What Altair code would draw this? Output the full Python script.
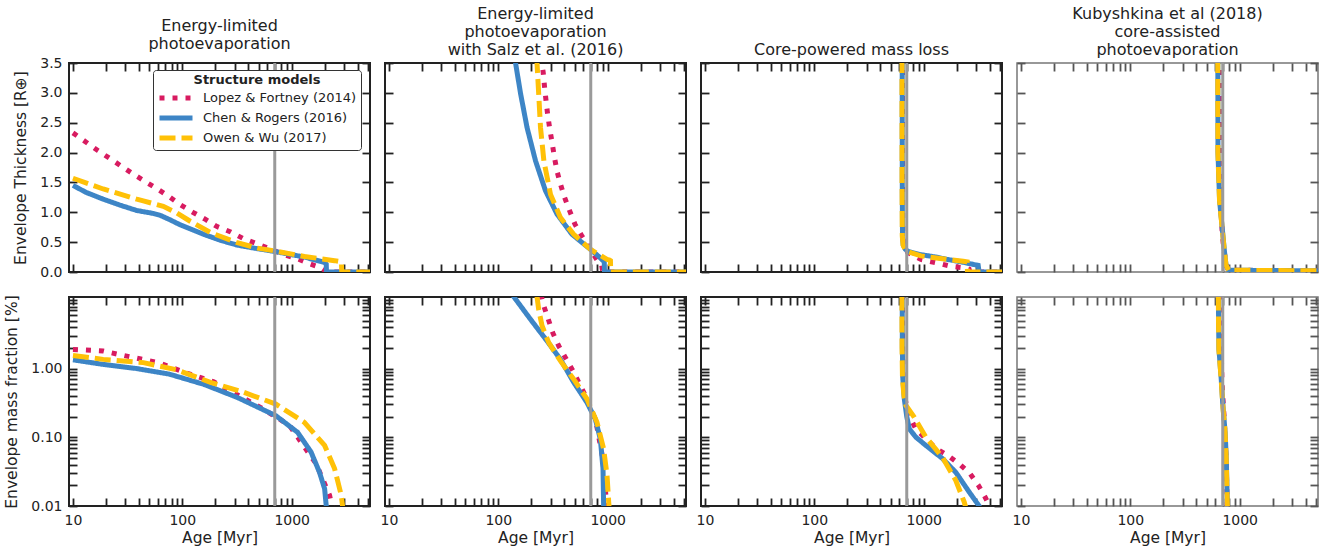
import altair as alt
import pandas as pd

# ---------------- text / categories ----------------
SERIES = ["Lopez & Fortney (2014)", "Chen & Rogers (2016)", "Owen & Wu (2017)"]
COLORS = ["#d81b60", "#3d85c6", "#ffc107"]
DASHES = [[5, 8], [1, 0], [16, 6]]
LEGEND_TITLE = "Structure models"
PANEL_TITLES = [
    ["Energy-limited", "photoevaporation"],
    ["Energy-limited", "photoevaporation", "with Salz et al. (2016)"],
    ["Core-powered mass loss"],
    ["Kubyshkina et al (2018)", "core-assisted", "photoevaporation"],
]
ROW_TITLES = ["Envelope Thickness [R⊕]", "Envelope mass fraction [%]"]
X_TITLE = "Age [Myr]"

# ---------------- axes ----------------
X_DOMAIN = [9.2, 5200]
TOP_DOMAIN = [0, 3.5]
BOT_DOMAIN = [0.01, 11]
X_TICKS = [10, 20, 30, 40, 50, 60, 70, 80, 90, 100, 200, 300, 400, 500, 600, 700, 800, 900,
           1000, 2000, 3000, 4000, 5000]
X_LABELS = [10, 100, 1000]
TOP_TICKS = [0, 0.5, 1.0, 1.5, 2.0, 2.5, 3.0, 3.5]
BOT_TICKS = [0.01, 0.02, 0.03, 0.04, 0.05, 0.06, 0.07, 0.08, 0.09,
             0.1, 0.2, 0.3, 0.4, 0.5, 0.6, 0.7, 0.8, 0.9,
             1, 2, 3, 4, 5, 6, 7, 8, 9, 10]
BOT_LABELS = [0.01, 0.1, 1]
DISPERSAL_AGE = [700]

# ---------------- data: panel 1 (energy-limited) ----------------
P1T_LF_AGE = [10, 13.3, 17, 21.8, 27.8, 35.6, 46.3, 59.3, 76, 97, 125, 163, 208, 277, 361, 485, 644, 855, 1120, 1450, 1860, 2000, 2050, 5200]
P1T_LF_VAL = [2.33, 2.17, 2.03, 1.90, 1.77, 1.64, 1.51, 1.39, 1.26, 1.12, 1.00, 0.88, 0.76, 0.67, 0.56, 0.47, 0.38, 0.29, 0.225, 0.14, 0.07, 0.03, 0.0, 0.0]
P1T_CR_AGE = [10, 13.3, 18.9, 26.9, 38.3, 54.5, 62.6, 76, 95.6, 157, 224, 318, 453, 716, 1306, 2000, 2070, 2080, 5200]
P1T_CR_VAL = [1.45, 1.33, 1.22, 1.12, 1.03, 0.98, 0.95, 0.88, 0.79, 0.63, 0.53, 0.45, 0.40, 0.34, 0.25, 0.16, 0.13, 0.0, 0.0]
P1T_OW_AGE = [10, 18.9, 38.3, 44, 67, 89, 118, 181, 318, 485, 716, 1306, 2466, 2850, 2870, 5200]
P1T_OW_VAL = [1.57, 1.39, 1.22, 1.19, 1.10, 0.99, 0.85, 0.66, 0.49, 0.40, 0.35, 0.26, 0.19, 0.17, 0.0, 0.0]

P1B_LF_AGE = [10, 18.9, 25.9, 60.5, 106, 194, 522, 950, 1675, 2220, 2400]
P1B_LF_VAL = [1.9, 1.80, 1.61, 1.22, 0.875, 0.64, 0.27, 0.15, 0.041, 0.0143, 0.008]
P1B_CR_AGE = [10, 18.9, 38.3, 76, 157, 318, 716, 1133, 1503, 1795, 2000, 2070, 2100]
P1B_CR_VAL = [1.34, 1.15, 1.0, 0.83, 0.59, 0.38, 0.206, 0.118, 0.061, 0.031, 0.0178, 0.01, 0.005]
P1B_OW_AGE = [10, 18.9, 44, 89, 181, 366, 716, 1306, 2000, 2466, 2840, 3000]
P1B_OW_VAL = [1.55, 1.36, 1.22, 0.96, 0.63, 0.45, 0.304, 0.165, 0.076, 0.035, 0.0143, 0.007]

# ---------------- data: panel 2 (energy-limited, Salz) ----------------
P2T_LF_AGE = [244, 257, 264, 273, 282, 295, 310, 326, 344, 370, 403, 450, 502, 582, 695, 800, 880, 900, 5200]
P2T_LF_VAL = [3.6, 3.35, 3.12, 2.87, 2.65, 2.40, 2.17, 1.92, 1.69, 1.47, 1.25, 1.02, 0.80, 0.60, 0.38, 0.2, 0.12, 0.0, 0.0]
P2T_CR_AGE = [141, 144, 160, 183, 219, 270, 344, 472, 695, 857, 918, 930, 935, 5200]
P2T_CR_VAL = [3.6, 3.49, 2.98, 2.42, 1.86, 1.36, 0.97, 0.63, 0.38, 0.236, 0.18, 0.17, 0.0, 0.0]
P2T_OW_AGE = [224, 226, 234, 243, 261, 300, 370, 489, 695, 986, 1040, 1060, 1065, 5200]
P2T_OW_VAL = [3.6, 3.49, 2.98, 2.42, 1.86, 1.30, 0.91, 0.63, 0.38, 0.21, 0.2, 0.19, 0.0, 0.0]

P2B_LF_AGE = [245, 261, 315, 357, 411, 482, 543, 650, 780, 900, 960, 1000]
P2B_LF_VAL = [12, 8.1, 3.3, 2.13, 1.44, 0.92, 0.63, 0.36, 0.17, 0.05, 0.015, 0.008]
P2B_CR_AGE = [135, 139, 197, 279, 370, 489, 647, 771, 857, 906, 918, 925]
P2B_CR_VAL = [12, 11, 5.2, 2.52, 1.36, 0.63, 0.32, 0.184, 0.094, 0.035, 0.01, 0.005]
P2B_OW_AGE = [224, 226, 234, 251, 289, 370, 489, 647, 798, 918, 986, 1021, 1040]
P2B_OW_VAL = [12, 11, 7.2, 4.2, 2.38, 1.29, 0.70, 0.36, 0.165, 0.068, 0.028, 0.0115, 0.008]

# ---------------- data: panel 3 (core-powered) ----------------
P3T_LF_AGE = [640, 641, 645, 660, 713, 944, 1340, 1770, 2345, 2600, 2650, 5200]
P3T_LF_VAL = [3.6, 1.5, 0.6, 0.42, 0.33, 0.21, 0.15, 0.096, 0.07, 0.05, 0.0, 0.0]
P3T_CR_AGE = [636, 637, 640, 650, 680, 713, 800, 944, 1300, 1652, 2200, 2893, 3150, 3210, 5200]
P3T_CR_VAL = [3.6, 1.5, 0.6, 0.45, 0.38, 0.35, 0.32, 0.29, 0.25, 0.21, 0.17, 0.124, 0.11, 0.0, 0.0]
P3T_OW_AGE = [633, 634, 637, 648, 680, 713, 944, 1652, 2300, 2500, 2513, 5200]
P3T_OW_VAL = [3.6, 1.5, 0.6, 0.45, 0.37, 0.34, 0.27, 0.21, 0.18, 0.17, 0.0, 0.0]

P3B_LF_AGE = [640, 642, 648, 670, 720, 849, 1291, 1676, 2113, 2637, 3162, 3640, 4000]
P3B_LF_VAL = [12, 2, 0.7, 0.4, 0.22, 0.132, 0.069, 0.054, 0.041, 0.030, 0.020, 0.0135, 0.01]
P3B_CR_AGE = [636, 638, 645, 665, 700, 740, 850, 1048, 1486, 1963, 2604, 3213, 3400]
P3B_CR_VAL = [12, 2, 0.7, 0.36, 0.2, 0.132, 0.1, 0.076, 0.049, 0.031, 0.016, 0.01, 0.008]
P3B_OW_AGE = [632, 634, 640, 660, 689, 821, 1048, 1486, 1963, 2344, 2500]
P3B_OW_VAL = [12, 2, 0.7, 0.4, 0.29, 0.195, 0.1, 0.051, 0.0236, 0.0115, 0.008]

# ---------------- data: panel 4 (Kubyshkina) ----------------
P4T_LF_AGE = [677, 678, 690, 705, 724, 749, 790, 5200]
P4T_LF_VAL = [3.6, 1.0, 0.7, 0.5, 0.33, 0.12, 0.03, 0.02]
P4T_CR_AGE = [631, 633, 655, 678, 701, 725, 750, 791, 5200]
P4T_CR_VAL = [3.6, 2.0, 1.19, 0.91, 0.63, 0.35, 0.12, 0.03, 0.02]
P4T_OW_AGE = [630, 632, 654, 677, 700, 724, 749, 790, 5200]
P4T_OW_VAL = [3.6, 2.0, 1.19, 0.91, 0.63, 0.35, 0.12, 0.03, 0.02]

P4B_LF_AGE = [677, 677, 690, 720, 750, 770]
P4B_LF_VAL = [12, 1.9, 0.6, 0.2, 0.05, 0.01]
P4B_CR_AGE = [639, 641, 646, 678, 701, 736, 754, 768, 776]
P4B_CR_VAL = [12, 5, 1.9, 0.7, 0.30, 0.118, 0.049, 0.0143, 0.008]
P4B_OW_AGE = [638, 640, 645, 677, 700, 735, 753, 767, 775]
P4B_OW_VAL = [12, 5, 1.9, 0.7, 0.30, 0.118, 0.049, 0.0143, 0.008]

CURVES = [
    [  # top row
        [(P1T_LF_AGE, P1T_LF_VAL), (P1T_CR_AGE, P1T_CR_VAL), (P1T_OW_AGE, P1T_OW_VAL)],
        [(P2T_LF_AGE, P2T_LF_VAL), (P2T_CR_AGE, P2T_CR_VAL), (P2T_OW_AGE, P2T_OW_VAL)],
        [(P3T_LF_AGE, P3T_LF_VAL), (P3T_CR_AGE, P3T_CR_VAL), (P3T_OW_AGE, P3T_OW_VAL)],
        [(P4T_LF_AGE, P4T_LF_VAL), (P4T_CR_AGE, P4T_CR_VAL), (P4T_OW_AGE, P4T_OW_VAL)],
    ],
    [  # bottom row
        [(P1B_LF_AGE, P1B_LF_VAL), (P1B_CR_AGE, P1B_CR_VAL), (P1B_OW_AGE, P1B_OW_VAL)],
        [(P2B_LF_AGE, P2B_LF_VAL), (P2B_CR_AGE, P2B_CR_VAL), (P2B_OW_AGE, P2B_OW_VAL)],
        [(P3B_LF_AGE, P3B_LF_VAL), (P3B_CR_AGE, P3B_CR_VAL), (P3B_OW_AGE, P3B_OW_VAL)],
        [(P4B_LF_AGE, P4B_LF_VAL), (P4B_CR_AGE, P4B_CR_VAL), (P4B_OW_AGE, P4B_OW_VAL)],
    ],
]

# ---------------- styling ----------------
FONT = "DejaVu Sans"
INK = "#222222"
GREY = "#9a9a9a"
W, H = 301, 209

color_scale = alt.Scale(domain=SERIES, range=COLORS)
dash_scale = alt.Scale(domain=SERIES, range=DASHES)
legend = alt.Legend(
    title=LEGEND_TITLE, orient="none", legendX=84, legendY=7,
    symbolType="stroke", symbolSize=1089, symbolStrokeWidth=5, clipHeight=16,
    labelFontSize=13, titleFontSize=13, titleFontWeight="bold",
    titleAnchor="middle", titleAlign="center", titlePadding=3,
    strokeColor="#333333", fillColor="white", cornerRadius=3, padding=4,
    rowPadding=4, labelOffset=8, labelColor=INK, titleColor=INK,
)


def frame(ages, vals, name):
    return pd.DataFrame({"age": ages, "value": vals, "series": name,
                         "idx": list(range(len(ages)))})


def cell(col, row):
    ydom = TOP_DOMAIN if row == 0 else BOT_DOMAIN
    yticks = TOP_TICKS if row == 0 else BOT_TICKS
    xsc = alt.Scale(type="log", domain=X_DOMAIN, nice=False)
    ysc = (alt.Scale(type="linear", domain=ydom, nice=False, zero=False) if row == 0
           else alt.Scale(type="log", domain=ydom, nice=False))
    tick_color = "#555555" if col == 3 else INK

    x_lab = None
    if row == 1:
        x_lab = alt.Axis(orient="bottom", values=X_LABELS, format="d", ticks=False, tickSize=0,
                         domain=False, grid=False, labelPadding=7, labelFlush=False,
                         labelOverlap=False, title=X_TITLE, titlePadding=3)
    y_lab = None
    if col == 0:
        y_lab = alt.Axis(orient="left", values=TOP_TICKS if row == 0 else BOT_LABELS,
                         format=".1f" if row == 0 else ".2f", ticks=False, tickSize=0,
                         domain=False, grid=False, labelPadding=7, labelFlush=False,
                         labelOverlap=False, title=ROW_TITLES[row], titlePadding=11)

    layers = []
    for k, (name, (ages, vals)) in enumerate(zip(SERIES, CURVES[row][col])):
        df = frame(ages, vals, name)
        layers.append(
            alt.Chart(df).mark_line(strokeWidth=5, clip=True, strokeCap="butt").encode(
                x=alt.X("age:Q", scale=xsc, axis=x_lab if k == 0 else None),
                y=alt.Y("value:Q", scale=ysc, axis=y_lab if k == 0 else None),
                color=alt.Color("series:N", scale=color_scale, legend=legend),
                strokeDash=alt.StrokeDash("series:N", scale=dash_scale, legend=legend),
                order="idx:Q",
            )
        )

    rule = alt.Chart(pd.DataFrame({"age": DISPERSAL_AGE})).mark_rule(
        color=GREY, strokeWidth=3).encode(x=alt.X("age:Q", scale=xsc, axis=None))

    tick_common = dict(labels=False, domain=False, grid=False, ticks=True, tickSize=8,
                       tickWidth=1.8, tickColor=tick_color, title=None)
    ghost_df = frame(CURVES[row][col][1][0], CURVES[row][col][1][1], SERIES[1])
    ghost_a = alt.Chart(ghost_df).mark_point(opacity=0, size=1, clip=True).encode(
        x=alt.X("age:Q", scale=xsc,
                axis=alt.Axis(orient="top", offset=-H, values=X_TICKS, **tick_common)),
        y=alt.Y("value:Q", scale=ysc,
                axis=alt.Axis(orient="right", offset=-W, values=yticks, **tick_common)),
    )
    ghost_b = alt.Chart(ghost_df).mark_point(opacity=0, size=1, clip=True).encode(
        x=alt.X("age:Q", scale=xsc,
                axis=alt.Axis(orient="bottom", offset=-H, values=X_TICKS, **tick_common)),
        y=alt.Y("value:Q", scale=ysc,
                axis=alt.Axis(orient="left", offset=-W, values=yticks, **tick_common)),
    )

    view = (alt.ViewBackground(stroke="#777777", strokeWidth=1.5) if col == 3
            else alt.ViewBackground(stroke=INK, strokeWidth=2))
    props = dict(width=W, height=H, view=view)
    if row == 0:
        props["title"] = alt.TitleParams(text=PANEL_TITLES[col], anchor="middle", offset=4,
                                         fontSize=16, fontWeight="normal", lineHeight=18,
                                         color=INK, font=FONT)
    return alt.layer(*layers, rule, ghost_a, ghost_b).resolve_axis(
        x="independent", y="independent").properties(**props)


cells = [cell(c, r) for r in range(2) for c in range(4)]

chart = alt.concat(*cells, columns=4, spacing={"row": 13, "column": 7}).properties(
    padding={"left": 3, "top": 4, "right": 5, "bottom": 3}
).configure(font=FONT).configure_axis(
    labelFont=FONT, labelFontSize=14, labelColor=INK,
    titleFont=FONT, titleFontSize=15.5, titleFontWeight="normal", titleColor=INK,
).configure_legend(labelFont=FONT, titleFont=FONT).configure_view(
    stroke=INK, strokeWidth=2
)

chart.save("out.html", embed_options={"renderer": "svg", "actions": False})
